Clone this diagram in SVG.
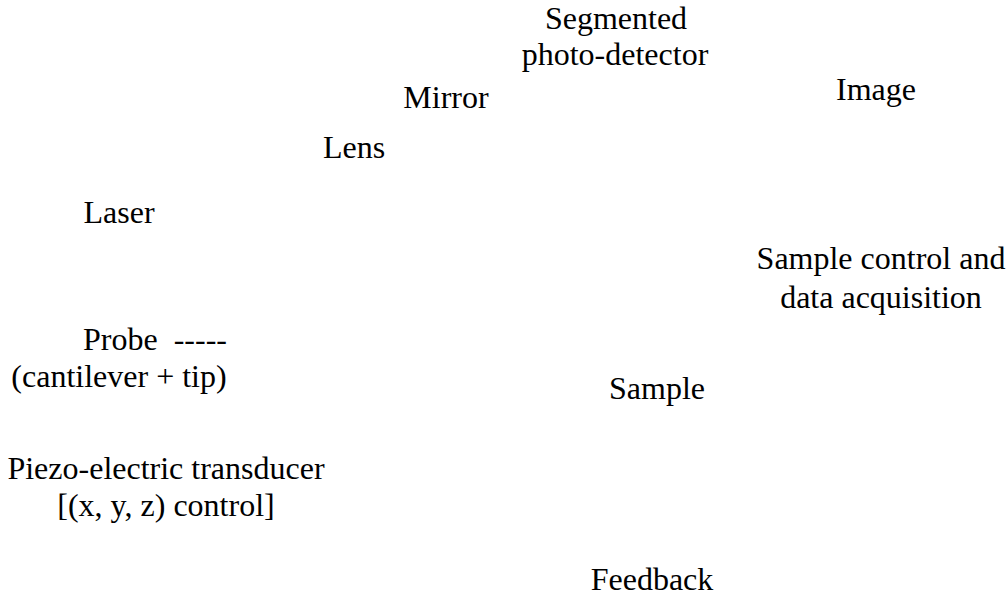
<svg xmlns="http://www.w3.org/2000/svg" width="1008" height="596" viewBox="0 0 1008 596" font-family="Liberation Serif, serif">
  <style>
    text { font-family: 'Liberation Serif', serif; font-size: 32px; fill: #000; text-anchor: middle; }
    text.start { text-anchor: start; }
  </style>
  <rect width="1008" height="596" fill="#fff"/>
  <g id="connectors"/>
  <g id="photodetector">
    <text x="616" y="29">Segmented</text>
    <text x="615" y="65">photo-detector</text>
  </g>
  <g id="image">
    <text x="876" y="100">Image</text>
  </g>
  <g id="mirror">
    <text x="446" y="108">Mirror</text>
  </g>
  <g id="lens">
    <text x="354" y="158">Lens</text>
  </g>
  <g id="laser">
    <text x="119" y="223">Laser</text>
  </g>
  <g id="control">
    <text x="881" y="269">Sample control and</text>
    <text x="881" y="308">data acquisition</text>
  </g>
  <g id="probe">
    <text class="start" x="83" y="350" xml:space="preserve">Probe  -----</text>
    <text x="119" y="387">(cantilever + tip)</text>
  </g>
  <g id="sample">
    <text x="657" y="399">Sample</text>
  </g>
  <g id="piezo">
    <text x="166" y="479">Piezo-electric transducer</text>
    <text x="166" y="516">[(x, y, z) control]</text>
  </g>
  <g id="feedback">
    <text x="652" y="590">Feedback</text>
  </g>
</svg>
